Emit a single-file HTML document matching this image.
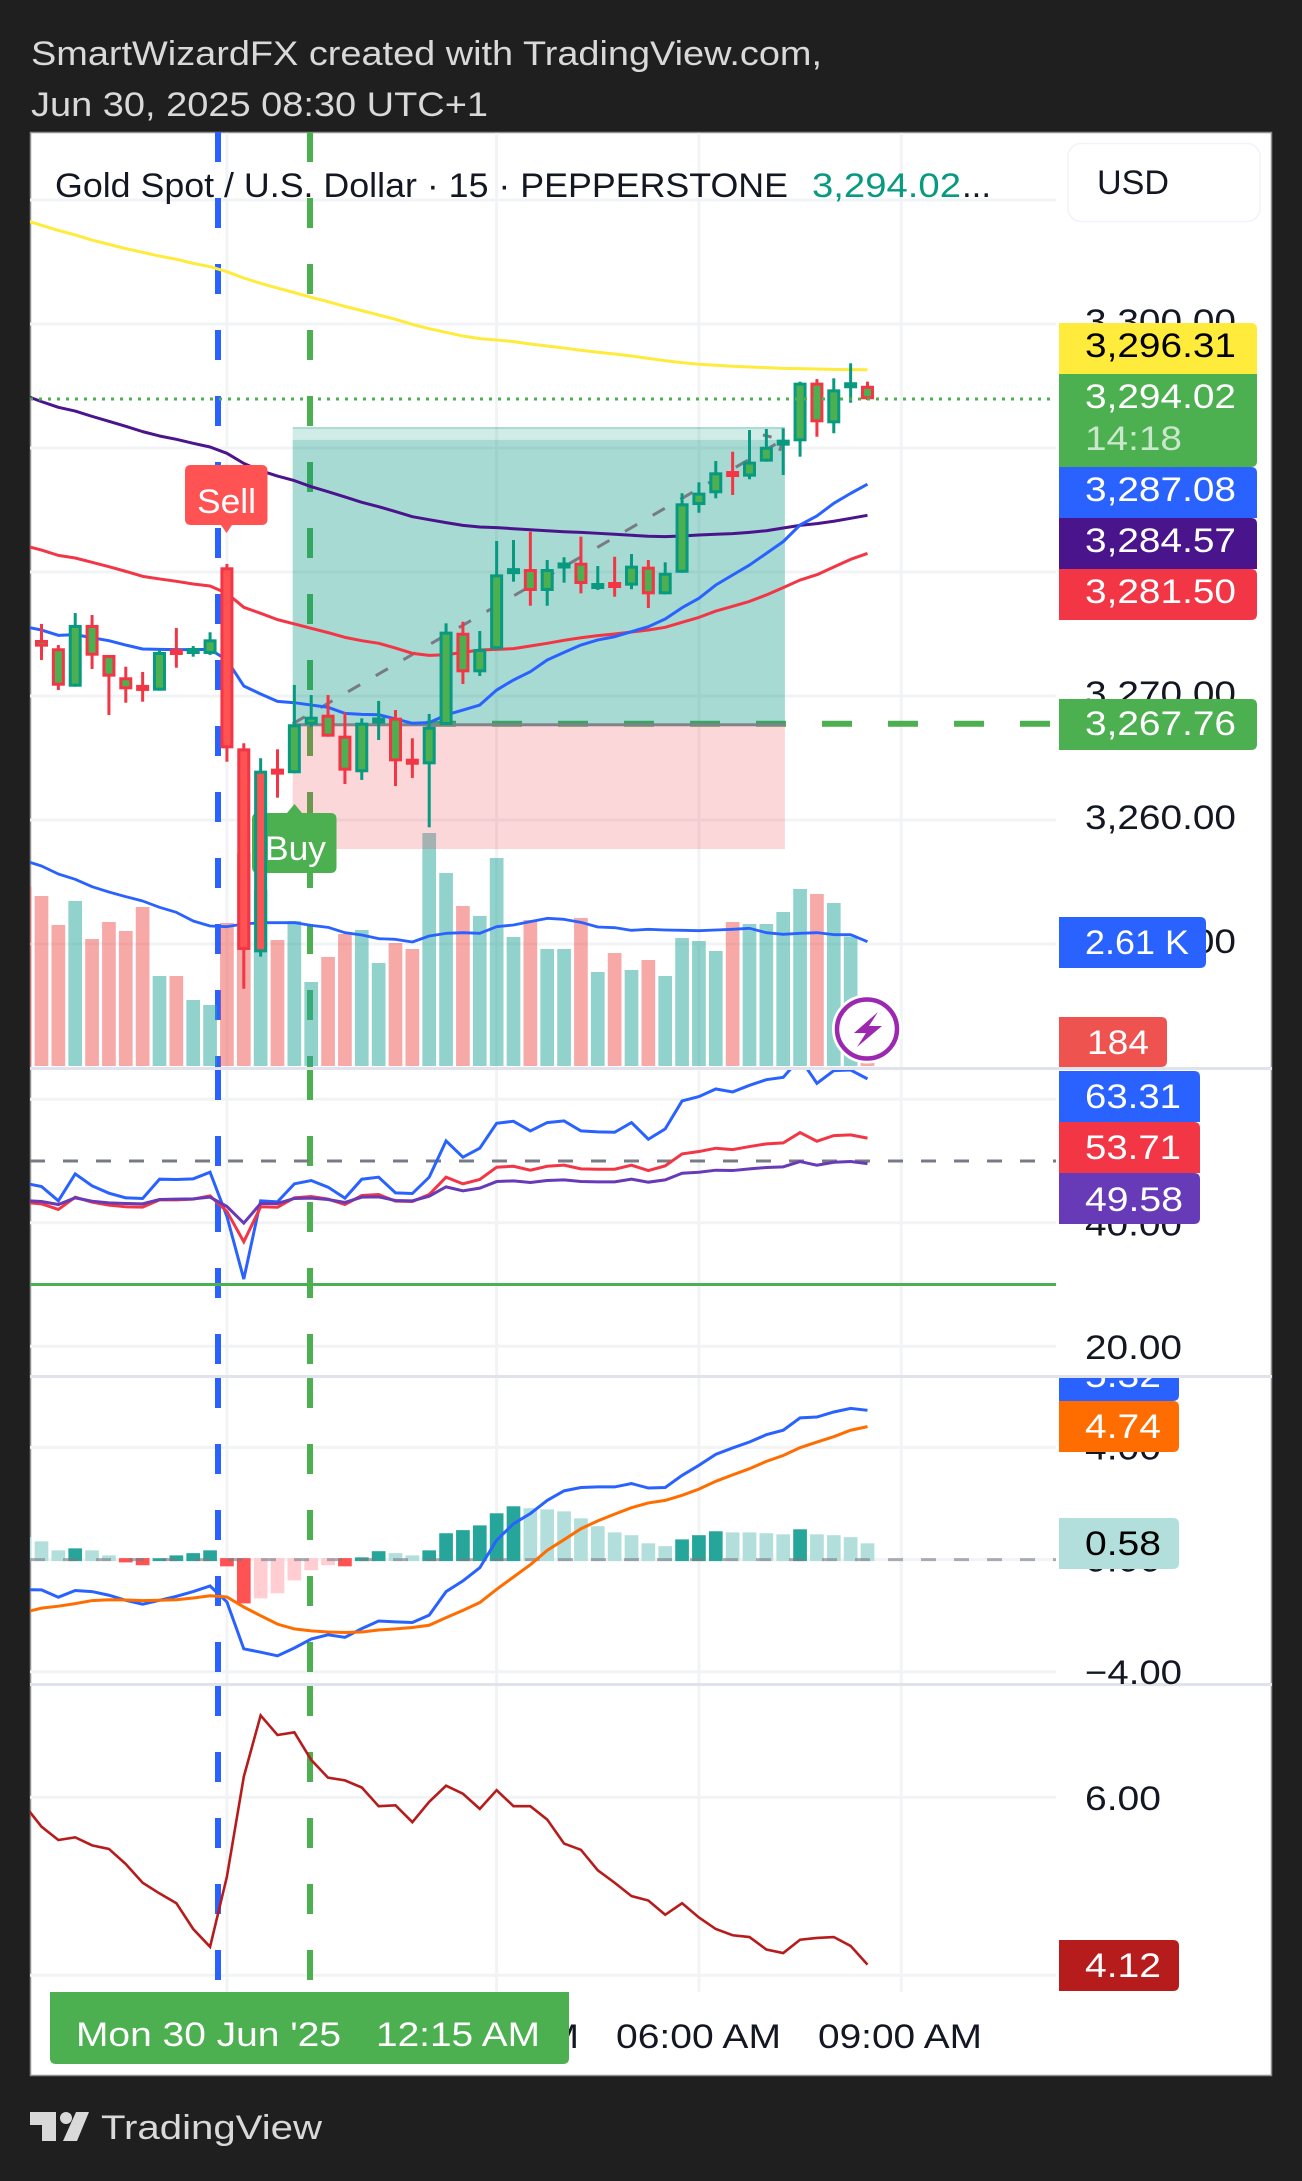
<!DOCTYPE html>
<html lang="en">
<head>
<meta charset="utf-8">
<title>Gold Spot / U.S. Dollar chart</title>
<style>
html,body{margin:0;padding:0;background:#1f1f1f}
svg{display:block}
text{font-family:"Liberation Sans",sans-serif;font-size:34px}
</style>
</head>
<body>
<svg id="chart" xmlns="http://www.w3.org/2000/svg" width="1302" height="2181" viewBox="0 0 1302 2181">
  <defs>
    <clipPath id="clip-main"><rect x="30" y="132" width="1026" height="935"/></clipPath>
    <clipPath id="clip-rsi"><rect x="30" y="1070" width="1026" height="305"/></clipPath>
    <clipPath id="clip-macd"><rect x="30" y="1378" width="1026" height="305"/></clipPath>
    <clipPath id="clip-atr"><rect x="30" y="1686" width="1026" height="305"/></clipPath>
    <clipPath id="clip-macd-scale"><rect x="1056" y="1378" width="216" height="305"/></clipPath>
  </defs>
  <rect x="0" y="0" width="1302" height="2181" fill="#1f1f1f"/>
  <text x="31" y="65" fill="#d9d9d9" textLength="791" lengthAdjust="spacingAndGlyphs">SmartWizardFX created with TradingView.com,</text>
  <text x="31" y="116" fill="#d9d9d9" textLength="457" lengthAdjust="spacingAndGlyphs">Jun 30, 2025 08:30 UTC+1</text>
  <rect x="30.5" y="132.5" width="1241" height="1943" fill="#ffffff" stroke="#8f8f8f" stroke-width="1.5"/>

  <g id="grid"></g>
  <g id="vlines"></g>
  <g id="priceline"></g>
  <g id="volume" clip-path="url(#clip-main)"></g>
  <g id="position"></g>
  <g id="mainlines" clip-path="url(#clip-main)"></g>

  <g>
    <path d="M191 465H261.500Q267.500 465 267.500 471V519Q267.500 525 261.500 525H232L226.500 533L221 525H191Q185 525 185 519V471Q185 465 191 465Z" fill="#ff5252"/>
    <text x="197" y="513" fill="#ffffff" textLength="59" lengthAdjust="spacingAndGlyphs">Sell</text>
  </g>
  <g>
    <path d="M258 813H287L294.500 804L302 813H330.500Q336.500 813 336.500 819V867Q336.500 873 330.500 873H258Q252 873 252 867V819Q252 813 258 813Z" fill="#4caf50"/>
    <text x="265" y="860" fill="#ffffff" textLength="61" lengthAdjust="spacingAndGlyphs">Buy</text>
  </g>

  <g id="candles" clip-path="url(#clip-main)"></g>
  <line x1="30" y1="399" x2="1050" y2="399" stroke="#4caf50" stroke-width="3" stroke-dasharray="3 6"/>

  <g id="rsi"></g>
  <g id="macd"></g>
  <g id="atr"></g>

  <rect x="30" y="1067" width="1242" height="3" fill="#e0e3eb"/>
  <rect x="30" y="1375" width="1242" height="3" fill="#e0e3eb"/>
  <rect x="30" y="1683" width="1242" height="3" fill="#e0e3eb"/>

  <g>
    <ellipse cx="867" cy="1029" rx="30" ry="29.500" fill="#ffffff" stroke="#ffffff" stroke-width="10"/>
    <ellipse cx="867" cy="1029" rx="30" ry="29.500" fill="#ffffff" stroke="#9c27b0" stroke-width="4.500"/>
    <polygon points="878,1012 854,1033 866,1033 857,1047 882,1026 869,1026" fill="#9c27b0"/>
  </g>

  <g>
    <text x="55" y="197" fill="#131722" textLength="733" lengthAdjust="spacingAndGlyphs">Gold Spot / U.S. Dollar · 15 · PEPPERSTONE</text>
    <text x="812" y="197" fill="#089981" textLength="149" lengthAdjust="spacingAndGlyphs">3,294.02</text>
    <text x="962" y="197" fill="#131722" textLength="29" lengthAdjust="spacingAndGlyphs">...</text>
  </g>
  <g>
    <rect x="1068" y="143.500" width="192" height="78" rx="13" fill="#ffffff" stroke="#f0f3fa" stroke-width="1.500"/>
    <text x="1097" y="194" fill="#131722" textLength="72" lengthAdjust="spacingAndGlyphs">USD</text>
  </g>

  <g id="axisLabels"></g>

  <g>
    <path d="M1059 323H1251Q1257 323 1257 329V374H1059Z" fill="#ffeb3b"/>
    <text x="1085" y="357" fill="#000000" textLength="151" lengthAdjust="spacingAndGlyphs">3,296.31</text>
    <path d="M1059 374H1257V461Q1257 467 1251 467H1059Z" fill="#4caf50"/>
    <text x="1085" y="408" fill="#ffffff" textLength="151" lengthAdjust="spacingAndGlyphs">3,294.02</text>
    <text x="1085" y="450" fill="#ffffff" fill-opacity="0.7" textLength="97" lengthAdjust="spacingAndGlyphs">14:18</text>
    <path d="M1059 467H1251Q1257 467 1257 473V518H1059Z" fill="#2962ff"/>
    <text x="1085" y="501" fill="#ffffff" textLength="151" lengthAdjust="spacingAndGlyphs">3,287.08</text>
    <path d="M1059 518H1251Q1257 518 1257 524V569H1059Z" fill="#4a148c"/>
    <text x="1085" y="552" fill="#ffffff" textLength="151" lengthAdjust="spacingAndGlyphs">3,284.57</text>
    <path d="M1059 569H1251Q1257 569 1257 575V614Q1257 620 1251 620H1059Z" fill="#f23645"/>
    <text x="1085" y="603" fill="#ffffff" textLength="151" lengthAdjust="spacingAndGlyphs">3,281.50</text>
    <path d="M1059 699H1251Q1257 699 1257 705V744Q1257 750 1251 750H1059Z" fill="#4caf50"/>
    <text x="1085" y="735" fill="#ffffff" textLength="151" lengthAdjust="spacingAndGlyphs">3,267.76</text>
    <path d="M1059 917H1200Q1206 917 1206 923V962Q1206 968 1200 968H1059Z" fill="#2962ff"/>
    <text x="1085" y="954" fill="#ffffff" textLength="104" lengthAdjust="spacingAndGlyphs">2.61 K</text>
    <path d="M1059 1017H1161Q1167 1017 1167 1023V1061Q1167 1067 1161 1067H1059Z" fill="#ef5350"/>
    <text x="1087" y="1054" fill="#ffffff" textLength="62" lengthAdjust="spacingAndGlyphs">184</text>
    <path d="M1059 1071H1194Q1200 1071 1200 1077V1122H1059Z" fill="#2962ff"/>
    <text x="1085" y="1108" fill="#ffffff" textLength="96" lengthAdjust="spacingAndGlyphs">63.31</text>
    <path d="M1059 1122H1194Q1200 1122 1200 1128V1173H1059Z" fill="#f23645"/>
    <text x="1085" y="1159" fill="#ffffff" textLength="96" lengthAdjust="spacingAndGlyphs">53.71</text>
    <path d="M1059 1173H1194Q1200 1173 1200 1179V1218Q1200 1224 1194 1224H1059Z" fill="#673ab7"/>
    <text x="1085" y="1211" fill="#ffffff" textLength="98" lengthAdjust="spacingAndGlyphs">49.58</text>
    <g clip-path="url(#clip-macd-scale)">
      <path d="M1059 1350H1179V1395Q1179 1401 1173 1401H1059Z" fill="#2962ff"/>
      <text x="1085" y="1387" fill="#ffffff" textLength="76" lengthAdjust="spacingAndGlyphs">5.32</text>
    </g>
    <path d="M1059 1401H1173Q1179 1401 1179 1407V1446Q1179 1452 1173 1452H1059Z" fill="#ff6d00"/>
    <text x="1085" y="1438" fill="#ffffff" textLength="76" lengthAdjust="spacingAndGlyphs">4.74</text>
    <path d="M1059 1518H1173Q1179 1518 1179 1524V1563Q1179 1569 1173 1569H1059Z" fill="#b2dfdb"/>
    <text x="1085" y="1555" fill="#000000" textLength="76" lengthAdjust="spacingAndGlyphs">0.58</text>
    <path d="M1059 1940H1173Q1179 1940 1179 1946V1985Q1179 1991 1173 1991H1059Z" fill="#b71c1c"/>
    <text x="1085" y="1977" fill="#ffffff" textLength="76" lengthAdjust="spacingAndGlyphs">4.12</text>
  </g>

  <g>
    <text x="414" y="2048" fill="#131722" textLength="165" lengthAdjust="spacingAndGlyphs">03:00 AM</text>
    <text x="616" y="2048" fill="#131722" textLength="165" lengthAdjust="spacingAndGlyphs">06:00 AM</text>
    <text x="818" y="2048" fill="#131722" textLength="164" lengthAdjust="spacingAndGlyphs">09:00 AM</text>
    <path d="M50 1992H569V2058Q569 2064 563 2064H56Q50 2064 50 2058Z" fill="#4caf50"/>
    <text x="76" y="2046" fill="#ffffff" textLength="265" lengthAdjust="spacingAndGlyphs">Mon 30 Jun '25</text>
    <text x="376" y="2046" fill="#ffffff" textLength="164" lengthAdjust="spacingAndGlyphs">12:15 AM</text>
  </g>

  <g>
    <path d="M30 2112H56V2141H42V2125H30Z" fill="#d9d9d9"/>
    <circle cx="66" cy="2118" r="6" fill="#d9d9d9"/>
    <polygon points="76,2112 89,2112 77,2141 63,2141" fill="#d9d9d9"/>
    <text x="101" y="2139" fill="#d9d9d9" textLength="221" lengthAdjust="spacingAndGlyphs">TradingView</text>
  </g>
</svg>

<script>
// Candles, index 0..49
const opens=[3274.52,3273.85,3270.75,3275.73,3273.31,3271.51,3270.70,3270.43,3273.60,3273.58,3273.39,3280.38,3265.78,3249.33,3263.95,3263.77,3267.69,3268.49,3266.80,3263.85,3267.80,3268.25,3264.75,3264.49,3267.66,3275.10,3271.91,3273.77,3279.84,3280.24,3278.47,3280.30,3280.75,3278.82,3279.00,3278.90,3280.43,3278.20,3279.94,3285.40,3286.35,3287.95,3287.69,3288.90,3290.38,3290.54,3295.27,3291.99,3295.01,3295.02];
const highs=[3275.81,3274.11,3276.69,3276.53,3273.31,3272.36,3271.94,3273.71,3275.48,3274.03,3275.14,3280.65,3266.19,3264.98,3265.70,3270.89,3270.08,3270.08,3268.68,3268.20,3269.60,3268.87,3266.59,3268.55,3275.86,3275.99,3275.24,3282.50,3282.58,3283.25,3280.97,3281.19,3282.85,3280.48,3281.23,3281.45,3280.97,3280.78,3286.35,3287.23,3288.95,3289.70,3291.45,3291.53,3291.59,3295.35,3295.56,3295.62,3296.83,3295.35];
const lows=[3272.90,3270.48,3270.75,3272.18,3268.47,3269.46,3269.54,3270.43,3272.28,3273.17,3273.31,3264.70,3246.39,3248.98,3261.80,3263.77,3267.52,3266.72,3262.90,3263.23,3266.45,3262.74,3263.39,3259.41,3267.66,3270.97,3271.61,3273.77,3279.22,3277.28,3277.28,3279.14,3278.28,3278.55,3278.01,3278.61,3277.10,3278.20,3279.94,3284.78,3285.94,3286.21,3287.48,3288.90,3287.82,3289.30,3290.91,3291.19,3293.65,3293.87];
const closes=[3273.98,3270.83,3275.73,3273.25,3271.56,3270.54,3270.60,3273.55,3273.50,3273.68,3274.57,3265.78,3249.52,3263.98,3263.85,3267.72,3268.33,3266.72,3263.98,3267.85,3268.25,3264.73,3264.65,3267.52,3275.19,3271.91,3273.79,3279.81,3280.30,3278.47,3280.24,3280.75,3279.03,3278.92,3278.90,3280.51,3278.20,3279.94,3285.54,3286.40,3288.04,3287.85,3288.90,3290.10,3290.48,3295.27,3292.07,3294.73,3295.11,3293.93];
const redBodyIndexes=[11,12,13];

// Series below start one bar earlier, index -1..49
const emaYellow=[3308.39,3307.96,3307.55,3307.18,3306.77,3306.42,3306.08,3305.78,3305.48,3305.22,3304.89,3304.62,3304.22,3303.71,3303.28,3302.90,3302.53,3302.15,3301.80,3301.42,3301.08,3300.73,3300.38,3299.97,3299.62,3299.33,3299.03,3298.82,3298.71,3298.58,3298.39,3298.23,3298.06,3297.88,3297.72,3297.58,3297.42,3297.23,3297.04,3296.88,3296.75,3296.67,3296.59,3296.53,3296.48,3296.42,3296.40,3296.37,3296.34,3296.32,3296.31];
const emaPurple=[3294.25,3293.74,3293.28,3292.98,3292.55,3292.15,3291.75,3291.32,3290.97,3290.70,3290.38,3290.08,3289.57,3288.76,3288.17,3287.74,3287.37,3286.88,3286.48,3286.05,3285.62,3285.27,3284.87,3284.46,3284.22,3283.98,3283.76,3283.63,3283.58,3283.49,3283.41,3283.33,3283.25,3283.20,3283.12,3283.04,3282.96,3282.88,3282.85,3282.90,3282.98,3283.04,3283.09,3283.20,3283.33,3283.55,3283.76,3283.90,3284.09,3284.33,3284.57];
const emaRed=[3282.12,3281.77,3281.34,3281.13,3280.78,3280.43,3280.05,3279.65,3279.44,3279.25,3279.03,3278.87,3278.28,3277.15,3276.67,3276.16,3275.81,3275.46,3275.11,3274.73,3274.46,3274.25,3273.87,3273.44,3273.28,3273.33,3273.52,3273.71,3273.76,3273.82,3274.03,3274.25,3274.49,3274.70,3274.87,3275.00,3275.16,3275.32,3275.54,3275.94,3276.34,3276.85,3277.23,3277.63,3278.15,3278.74,3279.35,3279.78,3280.40,3281.02,3281.50];
const emaBlue=[3275.59,3275.32,3274.89,3274.95,3274.70,3274.46,3274.11,3273.79,3273.76,3273.74,3273.74,3273.76,3272.90,3270.81,3270.16,3269.57,3269.46,3269.27,3269.09,3268.60,3268.52,3268.49,3268.15,3267.80,3267.85,3268.47,3268.87,3269.27,3270.48,3271.29,3271.96,3272.90,3273.52,3274.11,3274.52,3274.78,3275.19,3275.59,3276.21,3277.12,3277.88,3278.95,3279.76,3280.56,3281.50,3282.45,3283.79,3284.52,3285.54,3286.34,3287.08];
const volumes=[3766,3570,2961,3465,2667,3024,2835,3339,1890,1890,1386,1281,3003,4473,3696,2646,3045,1764,2289,2772,2856,2163,2583,2457,4893,4053,3360,3150,4368,2709,3066,2457,2457,3108,1974,2373,2016,2226,1890,2688,2625,2415,3024,2982,2982,3234,3717,3612,3423,2716,184];
const volumeDown=[1,1,1,0,1,1,1,1,0,1,0,0,1,1,0,1,0,0,1,1,0,0,1,1,0,0,1,0,0,0,1,0,0,1,0,1,0,1,0,0,0,0,1,0,0,0,0,1,0,0,1];
const volumeMA=[4312,4200,4032,3920,3766,3654,3556,3465,3332,3227,3045,2940,2926,2982,3010,3010,3010,2954,2912,2800,2751,2674,2660,2604,2730,2786,2800,2786,2926,2961,3031,3101,3080,3017,2919,2905,2849,2870,2856,2849,2842,2856,2870,2891,2800,2765,2786,2800,2758,2758,2610];
const rsiValues=[46.42,45.88,43.56,47.92,45.98,44.80,44.04,43.94,47.06,47.01,47.12,48.19,41.02,30.89,43.56,43.40,46.31,46.85,45.77,43.99,47.06,47.39,44.85,44.74,47.39,53.26,50.62,52.08,56.12,56.44,54.88,56.23,56.50,54.88,54.72,54.66,56.23,53.53,55.20,59.73,60.43,61.67,61.19,62.26,63.18,63.56,66.63,62.59,64.64,64.74,63.31];
const rsiMA=[43.29,43.07,42.16,44.15,43.34,42.86,42.59,42.53,43.72,43.72,43.83,44.37,41.83,36.93,42.59,42.53,44.04,44.26,43.83,42.96,44.42,44.58,43.50,43.45,44.58,47.39,46.31,47.01,49.00,49.16,48.52,49.16,49.33,48.73,48.68,48.68,49.33,48.46,49.22,51.16,51.54,52.08,51.86,52.35,52.78,52.94,54.61,53.21,54.12,54.23,53.71];
const rsiSlow=[43.61,43.45,42.96,44.04,43.50,43.23,43.13,43.07,43.77,43.83,43.88,44.15,42.64,39.95,43.13,43.13,43.94,43.99,43.77,43.29,44.15,44.20,43.61,43.56,44.31,45.82,45.18,45.61,46.68,46.79,46.52,46.85,46.95,46.68,46.63,46.63,47.06,46.58,46.95,48.03,48.19,48.52,48.46,48.73,48.95,49.06,49.92,49.33,49.81,49.92,49.58];
const macdLine=[-1.07,-1.08,-1.34,-1.10,-1.14,-1.27,-1.45,-1.59,-1.45,-1.31,-1.14,-0.94,-1.51,-3.18,-3.30,-3.43,-3.15,-2.83,-2.68,-2.77,-2.46,-2.19,-2.22,-2.24,-1.98,-1.14,-0.76,-0.29,0.69,1.28,1.64,2.11,2.45,2.57,2.59,2.59,2.71,2.55,2.57,3.00,3.36,3.75,3.98,4.19,4.45,4.61,5.05,5.08,5.26,5.39,5.32];
const macdSignal=[-1.88,-1.73,-1.66,-1.57,-1.46,-1.43,-1.44,-1.46,-1.45,-1.43,-1.37,-1.29,-1.33,-1.69,-2.00,-2.30,-2.47,-2.54,-2.58,-2.60,-2.58,-2.51,-2.47,-2.42,-2.34,-2.07,-1.81,-1.53,-1.06,-0.62,-0.18,0.33,0.71,1.10,1.38,1.62,1.85,2.02,2.11,2.29,2.51,2.79,3.02,3.24,3.50,3.71,3.99,4.19,4.38,4.61,4.74];
const macdHist=[0.80,0.65,0.33,0.40,0.33,0.15,-0.10,-0.20,0.05,0.15,0.23,0.33,-0.24,-1.56,-1.38,-1.20,-0.74,-0.38,-0.20,-0.24,0.08,0.30,0.23,0.15,0.33,0.94,1.05,1.22,1.65,1.90,1.83,1.79,1.72,1.47,1.19,0.97,0.87,0.58,0.48,0.72,0.87,1.01,0.97,0.97,0.94,0.90,1.08,0.90,0.87,0.80,0.58];
const atrValues=[5.91,5.67,5.52,5.55,5.46,5.42,5.25,5.04,4.92,4.81,4.52,4.32,5.11,6.23,6.92,6.70,6.73,6.42,6.22,6.19,6.11,5.90,5.91,5.72,5.95,6.13,6.04,5.87,6.08,5.90,5.90,5.75,5.48,5.41,5.18,5.04,4.89,4.84,4.68,4.81,4.65,4.52,4.45,4.43,4.29,4.25,4.40,4.42,4.43,4.33,4.12];

// Axis ticks
const priceTicks=[3310,3300,3290,3280,3270,3260,3250];
const priceTickLabels=['','3,300.00','','','3,270.00','3,260.00','3,250.00'];
const rsiTicks=[60,40,20];
const rsiTickLabels=['','40.00','20.00'];
const rsiMid=50;
const rsiOversold=30;
const macdTicks=[4,0,-4];
const macdTickLabels=['4.00','0.00','−4.00'];
const atrTicks=[6,4];
const atrTickLabels=['6.00',''];
const timeGridBars=[11,27,39,51];

// Position tool
const entryPrice=3267.76;
const targetPrice=3291.69;
const targetInnerPrice=3290.65;
const stopPrice=3257.66;
const positionStartBar=14.9;
const positionEndBar=44.1;
const sellMarkerX=218;
const buyMarkerX=310;

const SVGNS='http://www.w3.org/2000/svg';
function xAt(i){return 41.5+16.857*i;}
function yPrice(p){return 324+(3300-p)*12.4;}
function yVolume(v){return 1066-v/21;}
function yRsi(v){return 1099.3+(60-v)*6.175;}
function yMacd(v){return 1559.6-v*28.06;}
function yAtr(v){return 1797.3+(6-v)*89;}
function mk(tag,attrs,parent){
  const e=document.createElementNS(SVGNS,tag);
  for(const k in attrs){e.setAttribute(k,attrs[k]);}
  parent.appendChild(e);
  return e;
}
function linePoints(values,yFn){
  return values.map(function(v,k){return xAt(k-1).toFixed(2)+','+yFn(v).toFixed(2);}).join(' ');
}

const gridG=document.getElementById('grid');
const GRID='#f2f3f5';
function hGrid(y){
  const g=mk('rect',{x:30,y:y-1.5,width:1026,height:3,fill:GRID},gridG);
  
  
}
priceTicks.forEach(function(t){hGrid(yPrice(t));});
rsiTicks.forEach(function(t){hGrid(yRsi(t));});
macdTicks.forEach(function(t){hGrid(yMacd(t));});
atrTicks.forEach(function(t){hGrid(yAtr(t));});
timeGridBars.forEach(function(b){
  const g=mk('rect',{x:xAt(b)-1.5,y:133,width:3,height:1859,fill:GRID},gridG);
  
  
});

// Vertical dashed markers, dash restarts per pane
const vG=document.getElementById('vlines');
[[132,1067],[1070,1375],[1378,1683],[1686,1991]].forEach(function(pane){
  for(let y=pane[0];y<pane[1];y+=66){
    const h=Math.min(30,pane[1]-y);
    const a=mk('rect',{x:sellMarkerX-3,y:y,width:6,height:h,fill:'#2962ff'},vG);
    
    
    const b=mk('rect',{x:buyMarkerX-3,y:y,width:6,height:h,fill:'#4caf50'},vG);
    
    
  }
});

// Entry price dashes
const plG=document.getElementById('priceline');
for(let x=426;x<1050;x+=66){
  const d=mk('rect',{x:x,y:yPrice(entryPrice)-3,width:30,height:6,fill:'#4caf50'},plG);
  
  
}

// Volume
const volG=document.getElementById('volume');
volumes.forEach(function(v,k){
  const x=xAt(k-1);
  const y=yVolume(v);
  const r=mk('rect',{x:x-6.85,y:y,width:13.7,height:1066-y,fill:volumeDown[k]?'#ef5350':'#26a69a','fill-opacity':0.5},volG);
  
  
});
const volLine=mk('polyline',{points:linePoints(volumeMA,yVolume),fill:'none',stroke:'#2962ff','stroke-width':2.8,'stroke-linejoin':'round'},volG);



// Position box
const posG=document.getElementById('position');
const px1=xAt(positionStartBar), px2=xAt(positionEndBar);
const yTop=yPrice(targetPrice), yIn=yPrice(targetInnerPrice), yEn=yPrice(entryPrice), yStop=yPrice(stopPrice);
const pStrip=mk('rect',{x:px1,y:yTop,width:px2-px1,height:yIn-yTop,fill:'#089981','fill-opacity':0.19},posG);


const pTopEdge=mk('rect',{x:px1,y:yTop,width:px2-px1,height:2,fill:'#089981','fill-opacity':0.2},posG);


const pProfit=mk('rect',{x:px1,y:yIn,width:px2-px1,height:yEn-yIn,fill:'#089981','fill-opacity':0.36},posG);


const pLoss=mk('rect',{x:px1,y:yEn+1,width:px2-px1,height:yStop-yEn-1,fill:'#f23645','fill-opacity':0.2},posG);


const pEntry=mk('rect',{x:px1,y:yEn-0.5,width:px2-px1,height:3,fill:'#808388'},posG);


const pTrend=mk('line',{x1:px1,y1:yEn,x2:px2-2,y2:yIn,stroke:'#787b86','stroke-width':3,'stroke-dasharray':'14 18'},posG);


const pArrow=mk('polyline',{points:(px2-22)+','+(yIn-5)+' '+(px2-2)+','+yIn+' '+(px2-8)+','+(yIn+20),fill:'none',stroke:'#787b86','stroke-width':3,'stroke-dasharray':'9 14'},posG);



// Main moving averages
const mainG=document.getElementById('mainlines');
const lYellow=mk('polyline',{points:linePoints(emaYellow,yPrice),fill:'none',stroke:'#ffeb3b','stroke-width':3,'stroke-linejoin':'round'},mainG);


const lPurple=mk('polyline',{points:linePoints(emaPurple,yPrice),fill:'none',stroke:'#4a148c','stroke-width':3,'stroke-linejoin':'round'},mainG);


const lRed=mk('polyline',{points:linePoints(emaRed,yPrice),fill:'none',stroke:'#f23645','stroke-width':3,'stroke-linejoin':'round'},mainG);


const lBlue=mk('polyline',{points:linePoints(emaBlue,yPrice),fill:'none',stroke:'#2962ff','stroke-width':3,'stroke-linejoin':'round'},mainG);



// Candles
const cG=document.getElementById('candles');
opens.forEach(function(o,i){
  const c=closes[i];
  const up=c>=o;
  const col=up?'#089981':'#f23645';
  const x=xAt(i);
  const w=mk('rect',{x:x-1.5,y:yPrice(highs[i]),width:3,height:yPrice(lows[i])-yPrice(highs[i]),fill:col},cG);
  
  
  let top=yPrice(Math.max(o,c));
  let bot=yPrice(Math.min(o,c));
  if(bot-top<6){const m=(top+bot)/2;top=m-3;bot=m+3;}
  const b=mk('rect',{x:x-6.5,y:top,width:13,height:bot-top,fill:col},cG);
  
  
  if(bot-top>6.5){
    const fill=redBodyIndexes.indexOf(i)>=0?'#ff5252':'#4caf50';
    const f=mk('rect',{x:x-3.5,y:top+3,width:7,height:bot-top-6,fill:fill},cG);
    
    
  }
});

// RSI pane
const rsiG=document.getElementById('rsi');
const rsiDash=mk('line',{x1:30,y1:yRsi(rsiMid),x2:1056,y2:yRsi(rsiMid),stroke:'#787b86','stroke-width':3,'stroke-dasharray':'15 18'},rsiG);


const rsiFloor=mk('line',{x1:30,y1:yRsi(rsiOversold),x2:1056,y2:yRsi(rsiOversold),stroke:'#4caf50','stroke-width':3},rsiG);


const rsiClip=mk('g',{'clip-path':'url(#clip-rsi)'},rsiG);


const lRsi=mk('polyline',{points:linePoints(rsiValues,yRsi),fill:'none',stroke:'#2962ff','stroke-width':3},rsiClip);


const lRsiMA=mk('polyline',{points:linePoints(rsiMA,yRsi),fill:'none',stroke:'#f23645','stroke-width':3},rsiClip);


const lRsiSlow=mk('polyline',{points:linePoints(rsiSlow,yRsi),fill:'none',stroke:'#673ab7','stroke-width':3},rsiClip);



// MACD pane
const macdG=document.getElementById('macd');
const macdClip=mk('g',{'clip-path':'url(#clip-macd)'},macdG);


macdHist.forEach(function(v,k){
  const prev=k>0?macdHist[k-1]:v;
  const col=v>=0?(v>prev?'#26a69a':'#b2dfdb'):(v<prev?'#ff5252':'#ffcdd2');
  const x=xAt(k-1);
  const y0=yMacd(0);
  const yv=yMacd(v);
  const top=v>=0?yv:y0-1.5;
  const bot=v>=0?y0+1.5:yv;
  const r=mk('rect',{x:x-6.85,y:top,width:13.7,height:bot-top,fill:col},macdClip);
  
  
});
const macdDash=mk('line',{x1:30,y1:yMacd(0),x2:1056,y2:yMacd(0),stroke:'#787b86','stroke-opacity':0.6,'stroke-width':3,'stroke-dasharray':'15 18'},macdClip);


const lMacd=mk('polyline',{points:linePoints(macdLine,yMacd),fill:'none',stroke:'#2962ff','stroke-width':3},macdClip);


const lSignal=mk('polyline',{points:linePoints(macdSignal,yMacd),fill:'none',stroke:'#ff6d00','stroke-width':3},macdClip);



// ATR pane
const atrG=document.getElementById('atr');
const atrClip=mk('g',{'clip-path':'url(#clip-atr)'},atrG);


const lAtr=mk('polyline',{points:linePoints(atrValues,yAtr),fill:'none',stroke:'#b71c1c','stroke-width':2.6},atrClip);



// Axis tick labels
const axG=document.getElementById('axisLabels');
function addTick(label,y,width){
  if(!label){return;}
  const t=mk('text',{x:1085,y:y,fill:'#131722',textLength:width,lengthAdjust:'spacingAndGlyphs'},axG);
  t.textContent=label;
  
  
}
priceTicks.forEach(function(v,i){addTick(priceTickLabels[i],yPrice(v)+9,151);});
rsiTicks.forEach(function(v,i){addTick(rsiTickLabels[i],yRsi(v)+12.5,97);});
macdTicks.forEach(function(v,i){addTick(macdTickLabels[i],yMacd(v)+12,v<0?97:76);});
atrTicks.forEach(function(v,i){addTick(atrTickLabels[i],yAtr(v)+12.5,76);});
</script>
</body>
</html>
